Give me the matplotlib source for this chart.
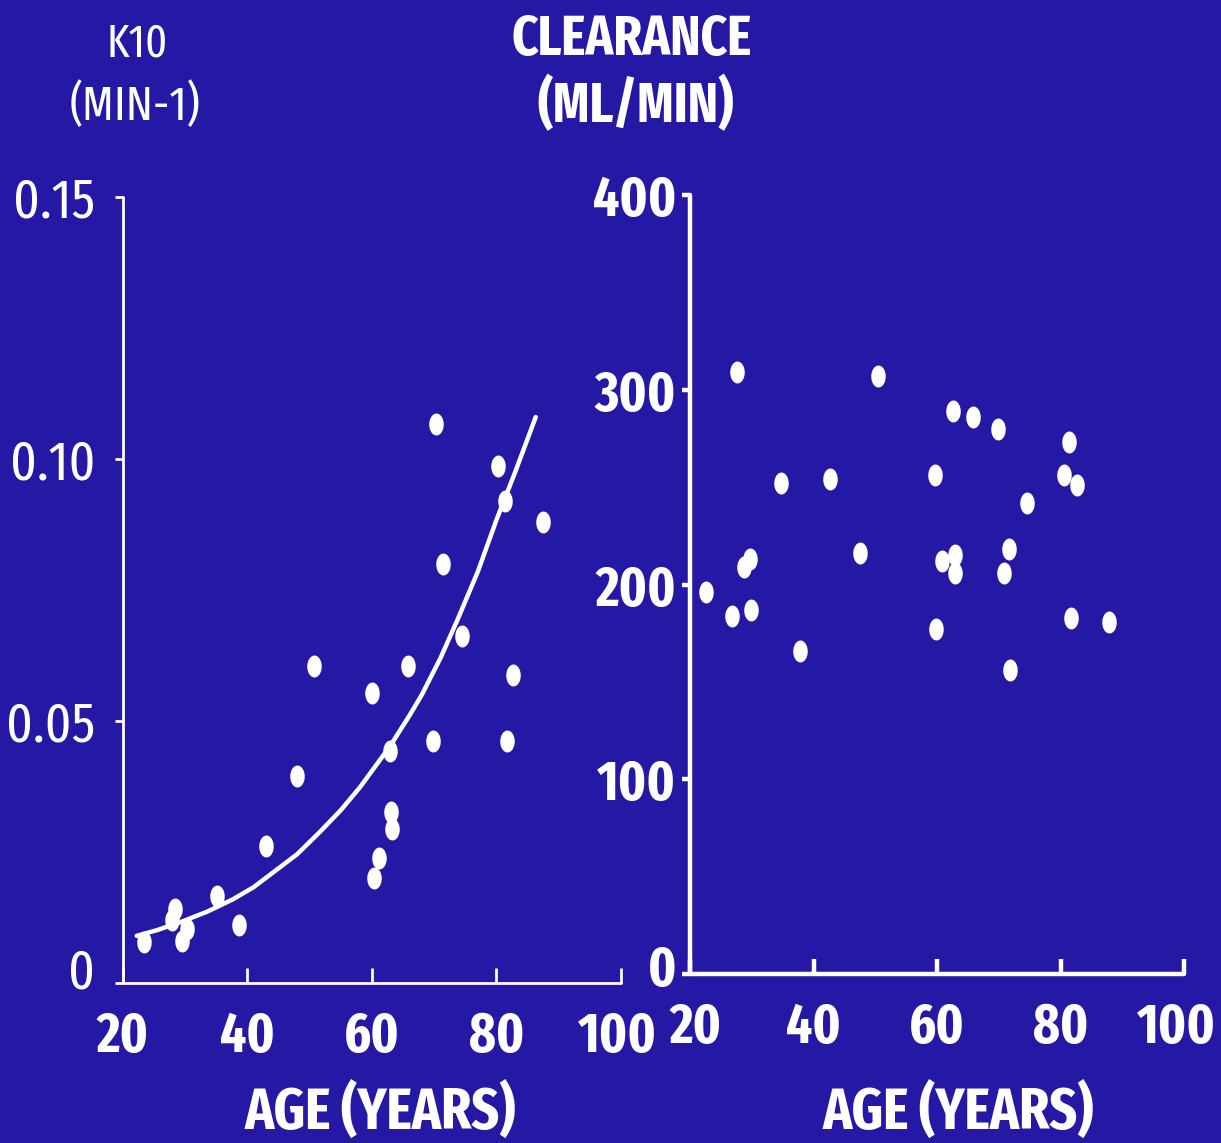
import os
import numpy as np
import matplotlib
matplotlib.use("Agg")
import matplotlib.pyplot as plt
import matplotlib.font_manager as fm
import matplotlib.transforms as mtransforms
from matplotlib.path import Path

# ---------------- data ----------------
age_ticks = [20, 40, 60, 80, 100]
age_tick_labels = ["20", "40", "60", "80", "100"]

k10_ticks = [0, 0.05, 0.10, 0.15]
k10_tick_labels = ["0", "0.05", "0.10", "0.15"]

clear_ticks = [0, 100, 200, 300, 400]
clear_tick_labels = ["0", "100", "200", "300", "400"]

k10_age = [23.4, 27.8, 28.4, 29.5, 30.3, 35.1, 38.6, 43.0, 47.9, 50.7, 60.0,
           60.3, 61.1, 62.9, 63.0, 63.2, 65.8, 69.8, 70.3, 71.4, 74.5, 80.2,
           81.4, 81.7, 82.6, 87.5]
k10_val = [0.0078, 0.0120, 0.0141, 0.0080, 0.0103, 0.0166, 0.0110, 0.0261,
           0.0395, 0.0605, 0.0553, 0.0200, 0.0239, 0.0443, 0.0326, 0.0294,
           0.0605, 0.0462, 0.1067, 0.0800, 0.0662, 0.0987, 0.0920, 0.0462,
           0.0588, 0.0880]

fit_age = [22.2, 25.5, 29.2, 33.5, 37.7, 41.0, 44.0, 48.0, 51.6, 55.0, 58.1,
           62.9, 66.0, 68.0, 71.0, 73.8, 77.0, 80.0, 83.0, 86.3]
fit_k10 = [0.0090, 0.0101, 0.0116, 0.0136, 0.0160, 0.0183, 0.0210, 0.0246,
           0.0288, 0.0330, 0.0374, 0.0452, 0.0510, 0.0550, 0.0620, 0.0695,
           0.0785, 0.0884, 0.0975, 0.1080]

clear_age = [27.6, 50.5, 62.6, 65.8, 69.8, 81.4, 80.5, 82.7, 74.6, 59.7, 42.7,
             34.8, 29.7, 28.7, 47.5, 60.8, 62.9, 62.9, 71.7, 70.9, 22.6, 26.8,
             29.9, 59.8, 81.7, 87.9, 37.8, 71.8]
clear_val = [309, 307, 289, 286, 280, 273, 256, 251, 242, 256, 254, 252, 213,
             209, 216, 212, 215, 206, 218, 206, 196, 184, 187, 177, 183, 181,
             166, 156]

# ---------------- fonts: look for an installed condensed face ----------------
def pick_font(bold):
    best, best_score = None, None
    for f in fm.fontManager.ttflist:
        base = os.path.basename(f.fname).lower()
        if not any(k in base for k in ("condensed", "narrow")):
            continue
        if any(k in base for k in ("italic", "oblique")):
            continue
        if any(k in base for k in ("light", "thin", "medium", "black",
                                   "semibold", "extrabold", "ultrabold",
                                   "demibold", "heavy")):
            continue
        is_bold = "bold" in base
        if is_bold != bold:
            continue
        if "extracondensed" in base or "extra-condensed" in base:
            score = 0
        elif "semicondensed" in base or "semi-condensed" in base:
            score = 3
        elif "narrow" in base:
            score = 1
        else:
            score = 2
        if best_score is None or score < best_score:
            best, best_score = f.fname, score
    return best


REG = pick_font(False)
BLD = pick_font(True) or REG
SCALE = 1.0 if BLD else 0.8


def fp(size, bold=True):
    path = BLD if bold else REG
    if path:
        return fm.FontProperties(fname=path, size=size)
    return fm.FontProperties(family="DejaVu Sans",
                             weight="bold" if bold else "normal",
                             size=size * SCALE)


# ---------------- style ----------------
W, H = 1221, 1143
BG = "#2518A5"
FG = "white"

theta = np.linspace(0, 2 * np.pi, 40)
ell = Path(np.column_stack([0.66 * np.cos(theta), np.sin(theta)]), closed=True)

fig = plt.figure(figsize=(W / 100, H / 100), dpi=100, facecolor=BG)


def px_axes(x0, x1, y_top, y_bot):
    return fig.add_axes([x0 / W, 1 - y_bot / H, (x1 - x0) / W, (y_bot - y_top) / H])


def style_axes(ax, lw):
    ax.set_facecolor(BG)
    ax.patch.set_alpha(0)
    for s in ("top", "right"):
        ax.spines[s].set_visible(False)
    for s in ("left", "bottom"):
        ax.spines[s].set_color(FG)
        ax.spines[s].set_linewidth(lw)
        ax.spines[s].set_capstyle("round")
    ax.tick_params(axis="x", direction="in", length=11, width=lw, color=FG,
                   labelcolor=FG, pad=19)
    ax.tick_params(axis="y", direction="out", length=6, width=lw, color=FG,
                   labelcolor=FG)
    ax.set_xlim(20, 100)
    ax.set_xticks(age_ticks)
    ax.set_xticklabels(age_tick_labels, fontproperties=fp(40))


def shift_label(lab, dx_px, dy_px):
    off = mtransforms.ScaledTranslation(dx_px / 100, dy_px / 100,
                                        fig.dpi_scale_trans)
    lab.set_transform(lab.get_transform() + off)


# ---------------- left panel ----------------
ax1 = px_axes(123, 621, 197, 983)
style_axes(ax1, 2.0)
ax1.set_ylim(0, 0.15)
ax1.set_yticks(k10_ticks)
ax1.set_yticklabels(k10_tick_labels, fontproperties=fp(40, bold=False))
ax1.tick_params(axis="y", pad=14)
ax1.plot(fit_age, fit_k10, color=FG, lw=3.2, solid_capstyle="round",
         solid_joinstyle="round", clip_on=False, zorder=3)
ax1.scatter(k10_age, k10_val, marker=ell, s=250, color=FG, lw=0,
            clip_on=False, zorder=4)
ax1.set_xlabel("AGE (YEARS)", fontproperties=fp(42), color=FG)
ax1.xaxis.label.set_va("center")
ax1.xaxis.set_label_coords(0.516, -0.164)
shift_label(ax1.get_yticklabels()[0], 0, 15)
shift_label(ax1.get_xticklabels()[-1], -4, 0)

# ---------------- right panel ----------------
ax2 = px_axes(690, 1184, 195, 974)
style_axes(ax2, 3.2)
ax2.set_ylim(0, 400)
ax2.set_yticks(clear_ticks)
ax2.set_yticklabels(clear_tick_labels, fontproperties=fp(40))
ax2.tick_params(axis="y", pad=4)
ax2.scatter(clear_age, clear_val, marker=ell, s=250, color=FG, lw=0,
            clip_on=False, zorder=4)
ax2.set_xlabel("AGE (YEARS)", fontproperties=fp(42), color=FG)
ax2.xaxis.label.set_va("center")
ax2.xaxis.set_label_coords(0.543, -0.177)
shift_label(ax2.get_yticklabels()[0], 0, 9)
shift_label(ax2.get_xticklabels()[0], 6, 0)
shift_label(ax2.get_xticklabels()[-1], -8, 0)

# ---------------- axis titles ----------------
fig.text(137 / W, 1 - 44 / H, "K10", ha="center", va="center", color=FG,
         fontproperties=fp(33, bold=False))
fig.text(135 / W, 1 - 106 / H, "(MIN-1)", ha="center", va="center", color=FG,
         fontproperties=fp(35, bold=False))
fig.text(632 / W, 1 - 40 / H, "CLEARANCE", ha="center", va="center", color=FG,
         fontproperties=fp(40))
fig.text(636 / W, 1 - 106 / H, "(ML/MIN)", ha="center", va="center", color=FG,
         fontproperties=fp(40))

fig.savefig("out.png", dpi=100, facecolor=BG)
